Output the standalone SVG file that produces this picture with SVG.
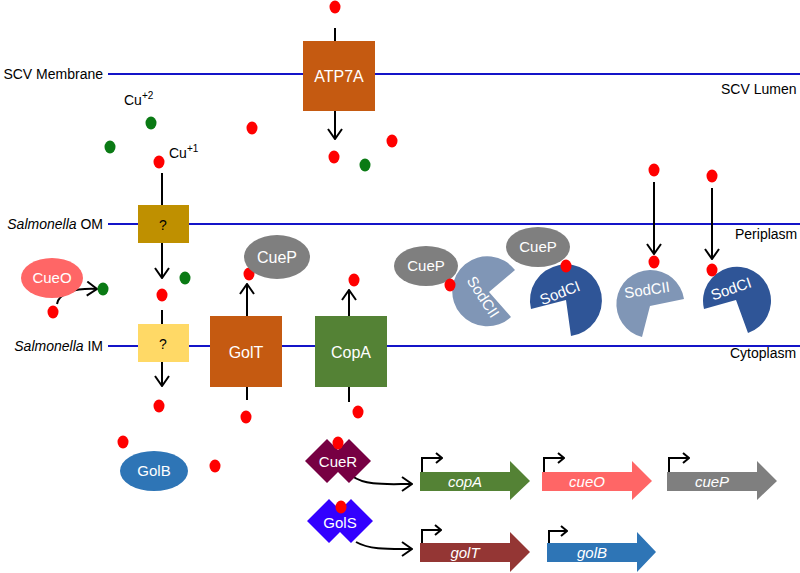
<svg xmlns="http://www.w3.org/2000/svg" width="800" height="573" viewBox="0 0 800 573">
<style>
text{font-family:"Liberation Sans",Arial,sans-serif;font-size:14px;fill:#000}
.w{fill:#fff}
.c{text-anchor:middle}
.it{font-style:italic}
.b{font-size:16px}
.e{font-size:15px}
.mem{stroke:#1414C8;stroke-width:2;fill:none}
.ln{stroke:#000;stroke-width:2;fill:none}
.red{fill:#FF0000}
.grn{fill:#0A7A14}
</style>
<defs>
<marker id="ah" viewBox="0 0 12 16" refX="11" refY="8" markerWidth="12" markerHeight="16" markerUnits="userSpaceOnUse" orient="auto"><path d="M1,1 L11,8 L1,15" fill="none" stroke="#000" stroke-width="2"/></marker>
<marker id="ps" viewBox="0 0 8 12" refX="7" refY="6" markerWidth="8" markerHeight="12" markerUnits="userSpaceOnUse" orient="auto"><path d="M1,1 L7,6 L1,11" fill="none" stroke="#000" stroke-width="2"/></marker>
</defs>
<rect width="800" height="573" fill="#fff"/>

<g id="membranes">
<line class="mem" x1="108" y1="74" x2="800" y2="74"/>
<line class="mem" x1="108" y1="224" x2="800" y2="224"/>
<line class="mem" x1="108" y1="346" x2="800" y2="346"/>
<text x="103" y="79" text-anchor="end">SCV Membrane</text>
<text x="721" y="94">SCV Lumen</text>
<text x="103" y="229" text-anchor="end"><tspan class="it">Salmonella</tspan> OM</text>
<text x="735" y="239">Periplasm</text>
<text x="103" y="351" text-anchor="end"><tspan class="it">Salmonella</tspan> IM</text>
<text x="730" y="358">Cytoplasm</text>
</g>

<g id="connectors">
<line class="ln" x1="335" y1="28" x2="335" y2="41"/>
<line class="ln" x1="335" y1="111" x2="335" y2="139" marker-end="url(#ah)"/>
<line class="ln" x1="162" y1="173" x2="162" y2="205"/>
<line class="ln" x1="162" y1="243" x2="162" y2="278" marker-end="url(#ah)"/>
<line class="ln" x1="162" y1="310" x2="162" y2="324"/>
<line class="ln" x1="162" y1="362" x2="162" y2="386" marker-end="url(#ah)"/>
<path class="ln" d="M57,304 C59,293 74,288 97,289" marker-end="url(#ah)"/>
<line class="ln" x1="247" y1="316" x2="247" y2="284" marker-end="url(#ah)"/>
<line class="ln" x1="247" y1="387" x2="247" y2="400"/>
<line class="ln" x1="349" y1="316" x2="349" y2="290" marker-end="url(#ah)"/>
<line class="ln" x1="349" y1="387" x2="349" y2="402"/>
<line class="ln" x1="654" y1="182" x2="654" y2="254" marker-end="url(#ah)"/>
<line class="ln" x1="712" y1="188" x2="712" y2="259" marker-end="url(#ah)"/>
<path class="ln" d="M352,476 C366,486 386,484 412,484" marker-end="url(#ah)"/>
<path class="ln" d="M356,542 C370,550 390,549 412,549" marker-end="url(#ah)"/>
</g>

<g id="ions">
<ellipse class="red" cx="335" cy="7" rx="5.5" ry="6.5"/>
<ellipse class="grn" cx="151" cy="123" rx="5.5" ry="6.5"/>
<ellipse class="grn" cx="110" cy="147" rx="5.5" ry="6.5"/>
<ellipse class="red" cx="252" cy="128" rx="5.5" ry="6.5"/>
<ellipse class="red" cx="392" cy="141" rx="5.5" ry="6.5"/>
<ellipse class="red" cx="334" cy="157" rx="5.5" ry="6.5"/>
<ellipse class="grn" cx="365" cy="165" rx="5.5" ry="6.5"/>
<ellipse class="red" cx="159" cy="162" rx="5.5" ry="6.5"/>
<text x="124" y="105">Cu<tspan font-size="10" dy="-6">+2</tspan></text>
<text x="169" y="158">Cu<tspan font-size="10" dy="-6">+1</tspan></text>
<ellipse class="red" cx="162" cy="295" rx="5.5" ry="6.5"/>
<ellipse class="grn" cx="185" cy="278" rx="5.5" ry="6.5"/>
<ellipse class="red" cx="53" cy="312" rx="5.5" ry="6.5"/>
<ellipse class="grn" cx="103" cy="289" rx="5.5" ry="6.5"/>
<ellipse class="red" cx="159" cy="406" rx="5.5" ry="6.5"/>
<ellipse class="red" cx="246" cy="417" rx="5.5" ry="6.5"/>
<ellipse class="red" cx="123" cy="442" rx="5.5" ry="6.5"/>
<ellipse class="red" cx="215" cy="466" rx="5.5" ry="6.5"/>
<ellipse class="red" cx="249" cy="274" rx="5.5" ry="6.5"/>
<ellipse class="red" cx="354" cy="280" rx="5.5" ry="6.5"/>
<ellipse class="red" cx="358" cy="412" rx="5.5" ry="6.5"/>
<ellipse class="red" cx="654" cy="170" rx="5.5" ry="6.5"/>
<ellipse class="red" cx="712" cy="176" rx="5.5" ry="6.5"/>
</g>

<g id="ATP7A">
<rect x="303" y="41" width="72" height="70" fill="#C55A11"/>
<text class="w c b" x="339" y="82">ATP7A</text>
</g>
<g id="OM-unknown">
<rect x="138" y="205" width="51" height="38" fill="#BF9000"/>
<text class="c" x="163" y="230">?</text>
</g>
<g id="IM-unknown">
<rect x="138" y="324" width="51" height="38" fill="#FFD966"/>
<text class="c" x="163" y="349">?</text>
</g>
<g id="CueO">
<ellipse cx="52" cy="278" rx="31" ry="20" fill="#FF6666"/>
<text class="w c e" x="52" y="283">CueO</text>
</g>
<g id="GolT">
<rect x="210" y="316" width="72" height="71" fill="#C55A11"/>
<text class="w c b" x="246" y="358">GolT</text>
</g>
<g id="CueP-1">
<ellipse cx="277" cy="257" rx="33" ry="22" fill="#7F7F7F"/>
<text class="w c b" x="277" y="263">CueP</text>
</g>
<g id="CopA">
<rect x="315" y="316" width="72" height="71" fill="#548235"/>
<text class="w c b" x="351" y="358">CopA</text>
</g>
<g id="GolB">
<ellipse cx="154" cy="471" rx="34" ry="20" fill="#2E75B6"/>
<text class="w c e" x="154" y="476">GolB</text>
</g>

<g id="CueP-2">
<ellipse cx="426" cy="266" rx="32" ry="20" fill="#7F7F7F"/>
<text class="w c e" x="426" y="271">CueP</text>
</g>
<g id="SodCII-1">
<path d="M489,292 L511,317 A35,35 0 1 1 515,270 Z" fill="#8096B6"/>
<text class="w c e" transform="translate(483,297) rotate(57)" y="5">SodCII</text>
</g>
<ellipse class="red" cx="450" cy="285" rx="5.5" ry="6.5"/>
<g id="CueP-3">
<ellipse cx="538" cy="247" rx="32" ry="20" fill="#7F7F7F"/>
<text class="w c e" x="538" y="252">CueP</text>
</g>
<g id="SodCI-1">
<path d="M566,300 L531,309 A36,36 0 1 1 571,336 Z" fill="#2F5597"/>
<text class="w c e" transform="translate(560,293) rotate(-21)" y="5">SodCI</text>
</g>
<ellipse class="red" cx="566" cy="266" rx="5.5" ry="6.5"/>
<g id="SodCII-2">
<path d="M650,306 L642,337 A34,34 0 1 1 684,299 Z" fill="#8096B6"/>
<text class="w c e" transform="translate(647,290) rotate(-8)" y="5">SodCII</text>
</g>
<ellipse class="red" cx="654" cy="262" rx="5.5" ry="6.5"/>
<g id="SodCI-2">
<path d="M736,300 L704,309 A34,34 0 1 1 748,333 Z" fill="#2F5597"/>
<text class="w c e" transform="translate(731,289) rotate(-19)" y="5">SodCI</text>
</g>
<ellipse class="red" cx="712" cy="270" rx="5.5" ry="6.5"/>

<g id="CueR">
<path d="M305,461 L327,439 L338,450 L349,439 L371,461 L349,483 L338,472 L327,483 Z" fill="#770043"/>
<ellipse class="red" cx="338" cy="443" rx="5.5" ry="6.5"/>
<text class="w c e" x="338" y="467">CueR</text>
</g>
<g id="GolS">
<path d="M307,521 L329,499 L340,510 L351,499 L373,521 L351,543 L340,532 L329,543 Z" fill="#3300FF"/>
<ellipse class="red" cx="341" cy="507" rx="5.5" ry="6.5"/>
<text class="w c e" x="340" y="528">GolS</text>
</g>

<g id="gene-copA">
<path d="M420,472 H510 V461 L530,481 L510,500 V491 H420 Z" fill="#548235"/>
<text class="w c it e" x="465" y="487">copA</text>
<path class="ln" d="M422,472 V458 H442" marker-end="url(#ps)"/>
</g>
<g id="gene-cueO">
<path d="M542,472 H632 V461 L652,481 L632,500 V491 H542 Z" fill="#FF6666"/>
<text class="w c it e" x="587" y="487">cueO</text>
<path class="ln" d="M544,472 V458 H564" marker-end="url(#ps)"/>
</g>
<g id="gene-cueP">
<path d="M667,472 H757 V461 L777,481 L757,500 V491 H667 Z" fill="#7F7F7F"/>
<text class="w c it e" x="712" y="487">cueP</text>
<path class="ln" d="M669,472 V458 H689" marker-end="url(#ps)"/>
</g>
<g id="gene-golT">
<path d="M420,543 H510 V532 L530,552 L510,572 V562 H420 Z" fill="#943634"/>
<text class="w c it e" x="465" y="558">golT</text>
<path class="ln" d="M422,543 V530 H441" marker-end="url(#ps)"/>
</g>
<g id="gene-golB">
<path d="M547,543 H637 V532 L656,552 L637,572 V562 H547 Z" fill="#2E75B6"/>
<text class="w c it e" x="592" y="558">golB</text>
<path class="ln" d="M549,543 V531 H567" marker-end="url(#ps)"/>
</g>
</svg>
